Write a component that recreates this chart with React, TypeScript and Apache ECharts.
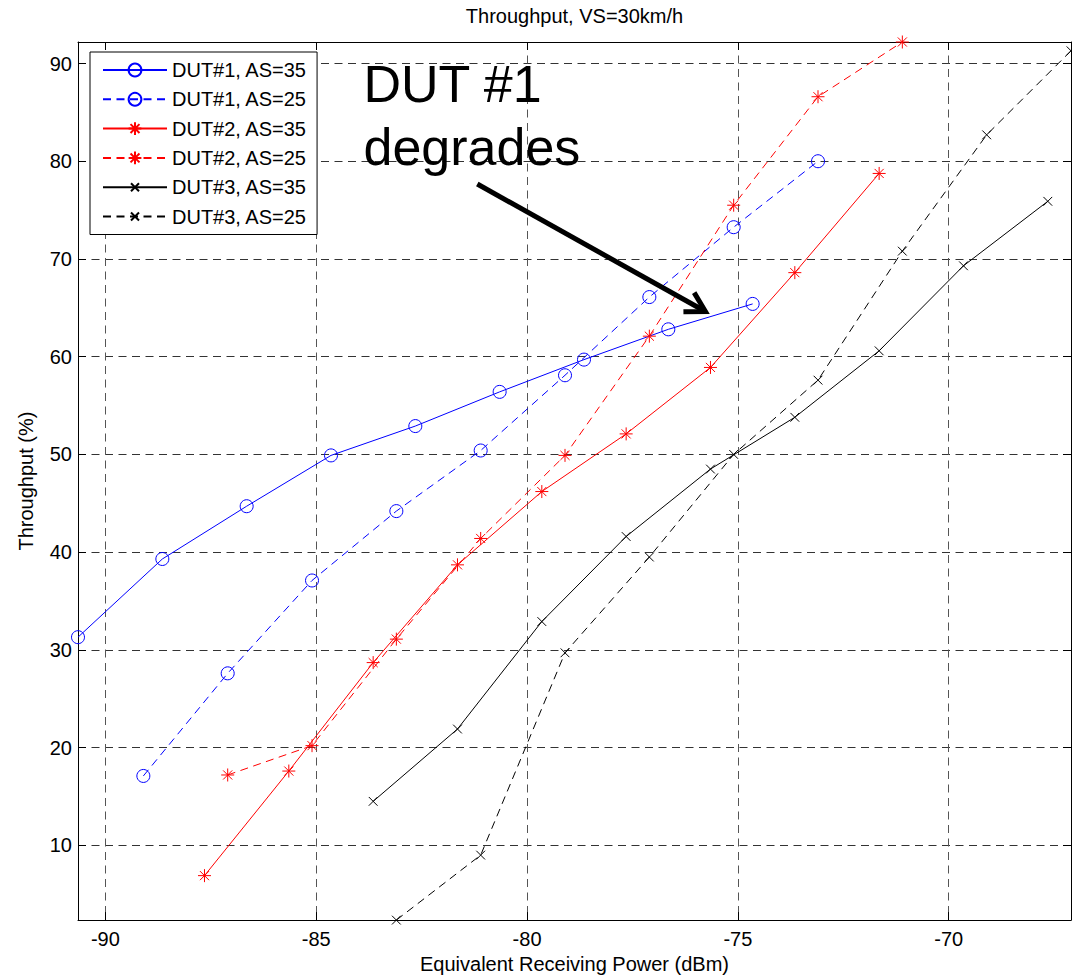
import React, { useEffect, useRef } from 'react';
import * as echarts from 'echarts';

const FONT = '"Liberation Sans", Arial, Helvetica, sans-serif';
const FS = 20;

// ---- data ----
const seriesNames = [
  'DUT#1, AS=35',
  'DUT#1, AS=25',
  'DUT#2, AS=35',
  'DUT#2, AS=25',
  'DUT#3, AS=35',
  'DUT#3, AS=25',
];

const dut1As35X = [-90.65, -88.65, -86.65, -84.65, -82.65, -80.65, -78.65, -76.65, -74.65];
const dut1As35Y = [31.3, 39.3, 44.7, 49.9, 52.9, 56.4, 59.7, 62.8, 65.4];

const dut1As25X = [-89.1, -87.1, -85.1, -83.1, -81.1, -79.1, -77.1, -75.1, -73.1];
const dut1As25Y = [17.1, 27.6, 37.1, 44.2, 50.4, 58.1, 66.1, 73.25, 80.0];

const dut2As35X = [-87.65, -85.65, -83.65, -81.65, -79.65, -77.65, -75.65, -73.65, -71.65];
const dut2As35Y = [6.9, 17.6, 28.7, 38.7, 46.2, 52.1, 58.9, 68.6, 78.75];

const dut2As25X = [-87.1, -85.1, -83.1, -81.1, -79.1, -77.1, -75.1, -73.1, -71.1];
const dut2As25Y = [17.2, 20.2, 31.1, 41.4, 49.9, 62.1, 75.5, 86.6, 92.2];

const dut3As35X = [-83.65, -81.65, -79.65, -77.65, -75.65, -73.65, -71.65, -69.65, -67.65];
const dut3As35Y = [14.5, 21.9, 32.9, 41.6, 48.5, 53.8, 60.6, 69.3, 75.9];

const dut3As25X = [-83.1, -81.1, -79.1, -77.1, -75.1, -73.1, -71.1, -69.1, -67.1];
const dut3As25Y = [2.35, 9.0, 29.7, 39.5, 50.0, 57.6, 70.8, 82.7, 91.3];

const xTicks = [-90, -85, -80, -75, -70];
const yTicks = [10, 20, 30, 40, 50, 60, 70, 80, 90];
const xRange = [-90.65, -67.1];
const yRange = [2.35, 92.2];

const titleText = 'Throughput, VS=30km/h';
const xName = 'Equivalent Receiving Power (dBm)';
const yName = 'Throughput (%)';
const noteLines = ['DUT #1', 'degrades'];
// annotation anchors in data coordinates
const noteTextPos = [-83.88, 87.86];
const noteLineGap = 6.42;
const arrowFrom = [-81.18, 77.67];
const arrowTo = [-75.77, 64.62];

// ---- marker shapes ----
const STAR = 'path://M5 0L5 10M0 5L10 5M1.5 1.5L8.5 8.5M8.5 1.5L1.5 8.5';
const CROSS = 'path://M0 0M16 16M3 3L13 13M13 3L3 13';

const zip = (xs: number[], ys: number[]) => xs.map((x, i) => [x, ys[i]]);

const DASH = [8, 5.5];

function makeSeries(name: string, xs: number[], ys: number[], color: string, dashed: boolean, symbol: string, size: number) {
  return {
    name,
    type: 'line',
    data: zip(xs, ys),
    symbol,
    symbolSize: size,
    symbolKeepAspect: true,
    showAllSymbol: true,
    clip: false,
    lineStyle: { color, width: 1, type: dashed ? DASH : 'solid' },
    itemStyle: { color: 'rgba(0,0,0,0)', borderColor: color, borderWidth: 1 },
    emphasis: { disabled: true },
    z: 3,
  };
}

export default function App() {
  const ref = useRef<HTMLDivElement>(null);

  useEffect(() => {
    const chart = echarts.init(ref.current!, null, { renderer: 'svg' });
    const axisLabelStyle = { fontSize: FS, color: '#000', fontFamily: FONT };
    chart.setOption({
      animation: false,
      backgroundColor: '#fff',
      grid: { left: 78, right: 1, top: 42, bottom: 56, containLabel: false },
      legend: {
        orient: 'vertical',
        left: 90,
        top: 52,
        itemWidth: 64,
        itemHeight: 16,
        itemGap: 9.3,
        padding: [8, 10, 8, 12],
        borderColor: '#000',
        borderWidth: 1,
        borderRadius: 0,
        backgroundColor: '#fff',
        selectedMode: false,
        textStyle: { fontSize: FS, color: '#000', fontFamily: FONT, lineHeight: 20 },
        data: seriesNames,
        z: 10,
      },
      xAxis: [
        {
          type: 'value',
          min: xRange[0],
          max: xRange[1],
          name: xName,
          nameLocation: 'middle',
          nameGap: 33,
          nameTextStyle: axisLabelStyle,
          axisLine: { show: true, onZero: false, lineStyle: { color: '#000', width: 1 } },
          axisTick: { show: true, inside: true, length: 8, customValues: xTicks, lineStyle: { color: '#000' } },
          axisLabel: { show: true, margin: 9, customValues: xTicks, ...axisLabelStyle },
          splitLine: { show: true, lineStyle: { color: '#555', width: 1, type: DASH } },
        },
        {
          type: 'value',
          position: 'top',
          min: xRange[0],
          max: xRange[1],
          axisLine: { show: true, onZero: false, lineStyle: { color: '#000', width: 1 } },
          axisTick: { show: true, inside: true, length: 8, customValues: xTicks, lineStyle: { color: '#000' } },
          axisLabel: { show: false },
          splitLine: { show: false },
        },
      ],
      yAxis: [
        {
          type: 'value',
          min: yRange[0],
          max: yRange[1],
          name: yName,
          nameLocation: 'middle',
          nameGap: 42,
          nameRotate: 90,
          nameTextStyle: axisLabelStyle,
          axisLine: { show: true, onZero: false, lineStyle: { color: '#000', width: 1 } },
          axisTick: { show: true, inside: true, length: 8, customValues: yTicks, lineStyle: { color: '#000' } },
          axisLabel: { show: true, margin: 6, customValues: yTicks, ...axisLabelStyle },
          splitLine: { show: true, lineStyle: { color: '#333', width: 1, type: DASH } },
        },
        {
          type: 'value',
          position: 'right',
          min: yRange[0],
          max: yRange[1],
          axisLine: { show: true, onZero: false, lineStyle: { color: '#000', width: 1 } },
          axisTick: { show: true, inside: true, length: 8, customValues: yTicks, lineStyle: { color: '#000' } },
          axisLabel: { show: false },
          splitLine: { show: false },
        },
      ],
      series: [
        makeSeries(seriesNames[0], dut1As35X, dut1As35Y, '#0000ff', false, 'circle', 13),
        makeSeries(seriesNames[1], dut1As25X, dut1As25Y, '#0000ff', true, 'circle', 13),
        makeSeries(seriesNames[2], dut2As35X, dut2As35Y, '#ff0000', false, STAR, 13),
        makeSeries(seriesNames[3], dut2As25X, dut2As25Y, '#ff0000', true, STAR, 13),
        makeSeries(seriesNames[4], dut3As35X, dut3As35Y, '#000000', false, CROSS, 14),
        makeSeries(seriesNames[5], dut3As25X, dut3As25Y, '#000000', true, CROSS, 14),
      ],
    });

    const px = (p: number[]) => chart.convertToPixel({ gridIndex: 0 }, p) as number[];
    const t = px(noteTextPos);
    const t2 = px([noteTextPos[0], noteTextPos[1] - noteLineGap]);
    const a0 = px(arrowFrom);
    const a1 = px(arrowTo);
    const ang = Math.atan2(a1[1] - a0[1], a1[0] - a0[0]) + Math.PI;
    const headLen = 22;
    const half = Math.PI / 6;
    const h1 = [a1[0] + headLen * Math.cos(ang - half), a1[1] + headLen * Math.sin(ang - half)];
    const h2 = [a1[0] + headLen * Math.cos(ang + half), a1[1] + headLen * Math.sin(ang + half)];
    const gridRect = { x: 78, w: 1072 - 1 - 78 };

    chart.setOption({
      graphic: [
        {
          type: 'text',
          x: gridRect.x + gridRect.w / 2,
          y: 15.5,
          style: { text: titleText, fontSize: FS, fontFamily: FONT, fill: '#000', align: 'center', verticalAlign: 'middle' },
          z: 20,
        },
        {
          type: 'text',
          x: t[0],
          y: t[1],
          style: { text: noteLines[0], fontSize: 52, fontFamily: FONT, fill: '#000', align: 'left', verticalAlign: 'middle' },
          z: 20,
        },
        {
          type: 'text',
          x: t2[0],
          y: t2[1],
          style: { text: noteLines[1], fontSize: 52, fontFamily: FONT, fill: '#000', align: 'left', verticalAlign: 'middle' },
          z: 20,
        },
        {
          type: 'line',
          shape: { x1: a0[0], y1: a0[1], x2: a1[0], y2: a1[1] },
          style: { stroke: '#000', lineWidth: 5 },
          z: 20,
        },
        {
          type: 'polyline',
          shape: { points: [h1, a1, h2] },
          style: { stroke: '#000', lineWidth: 5, fill: null, lineJoin: 'miter' },
          z: 20,
        },
      ],
    });

    return () => chart.dispose();
  }, []);

  return (
    <div
      ref={ref}
      style={{ position: 'fixed', left: 0, top: 0, width: 1072, height: 979, background: '#fff' }}
    />
  );
}
